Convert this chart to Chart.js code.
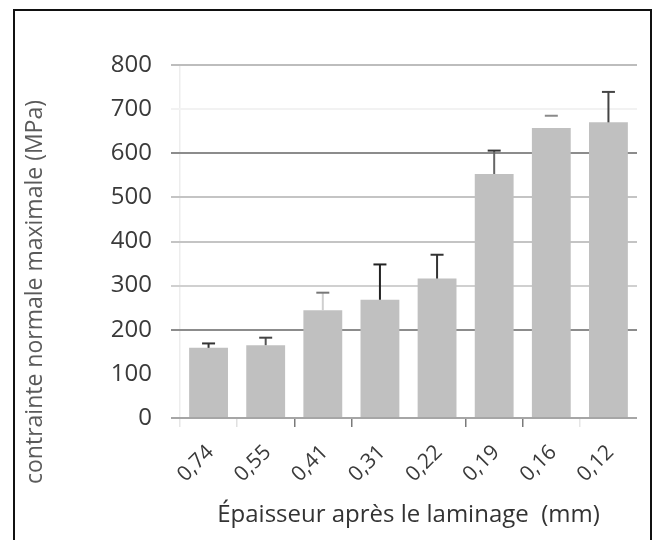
<!DOCTYPE html>
<html>
<head>
<meta charset="utf-8">
<script src="https://cdn.jsdelivr.net/npm/chart.js@4.4.1/dist/chart.umd.min.js"></script>
<style>
  html, body { margin: 0; padding: 0; background: #fff; }
  #wrap { width: 654px; height: 540px; }
</style>
</head>
<body>
<div id="wrap"><canvas id="chart" width="654" height="540"></canvas></div>
<script>
// thickness after rolling (mm) and max normal stress (MPa) with its spread
const thickness = ['0,74', '0,55', '0,41', '0,31', '0,22', '0,19', '0,16', '0,12'];
const stress = [159, 165, 244, 268, 316, 553, 657, 670];
const stressErr = [10, 17, 40, 80, 54, 53, 28, 69];
const yTicks = [0, 100, 200, 300, 400, 500, 600, 700, 800];

const yTitle = 'contrainte normale maximale (MPa)';
const xTitle = 'Épaisseur après le laminage  (mm)';

// line colours, per gridline / per error bar
const hGridColors = {0: '#a6a6a6', 100: 'rgba(0,0,0,0)', 200: '#8c8c8c', 300: '#d0d0d0', 400: '#c4c4c4',
                     500: '#c4c4c4', 600: '#8c8c8c', 700: '#f2f2f2', 800: '#bdbdbd'};
const vTickColors = ['#e6e6e6', '#e0e0e0', '#7a7a7a', '#7a7a7a', 'rgba(0,0,0,0)', '#7a7a7a', '#7a7a7a', '#e6e6e6', '#e0e0e0'];
const stemColors = ['#333', '#555', '#cfcfcf', '#222', '#333', '#666', 'rgba(0,0,0,0)', '#444'];
const capColors = ['#333', '#444', '#777', '#222', '#333', '#333', '#8a8a8a', '#444'];

const framePlugin = {
    id: 'frame',
    beforeDraw(chart) {
        const ctx = chart.ctx;
        ctx.save();
        ctx.fillStyle = '#fff';
        ctx.fillRect(0, 0, chart.width, chart.height);
        ctx.restore();
    },
    afterDraw(chart) {
        const ctx = chart.ctx;
        ctx.save();
        ctx.strokeStyle = '#111';
        ctx.lineWidth = 2;
        ctx.strokeRect(14, 10, 637, 540);
        // vertical axis title, drawn lower than the plot centre
        ctx.translate(35, 292);
        ctx.rotate(-Math.PI / 2);
        ctx.fillStyle = '#5a5a5a';
        ctx.font = '23px "Open Sans"';
        ctx.textAlign = 'center';
        ctx.textBaseline = 'middle';
        ctx.fillText(yTitle, 0, 0);
        ctx.restore();
    }
};

const errorBarPlugin = {
    id: 'errorBars',
    afterDatasetsDraw(chart) {
        const ctx = chart.ctx;
        const yScale = chart.scales.y;
        const bars = chart.getDatasetMeta(0).data;
        ctx.save();
        bars.forEach((bar, i) => {
            const yTop = yScale.getPixelForValue(stress[i] + stressErr[i]);
            ctx.strokeStyle = stemColors[i];
            ctx.lineWidth = 2;
            ctx.beginPath();
            ctx.moveTo(bar.x, bar.y);
            ctx.lineTo(bar.x, yTop);
            ctx.stroke();
            ctx.strokeStyle = capColors[i];
            ctx.beginPath();
            ctx.moveTo(bar.x - 6.5, yTop);
            ctx.lineTo(bar.x + 6.5, yTop);
            ctx.stroke();
        });
        ctx.restore();
    }
};

new Chart(document.getElementById('chart'), {
    type: 'bar',
    data: {
        labels: thickness,
        datasets: [{
            data: stress,
            backgroundColor: '#c0c0c0',
            borderWidth: 0,
            categoryPercentage: 1,
            barPercentage: 0.68
        }]
    },
    options: {
        responsive: false,
        animation: false,
        layout: { padding: { top: 65, right: 17, left: 0, bottom: 0 } },
        plugins: {
            legend: { display: false },
            tooltip: { enabled: false }
        },
        scales: {
            x: {
                afterFit: scale => { scale.height = 122; },
                border: { display: false },
                grid: {
                    offset: true,
                    color: c => (c.index === 0 ? 'rgba(0,0,0,0.07)' : 'rgba(0,0,0,0)'),
                    tickColor: c => vTickColors[c.index] || 'rgba(0,0,0,0)',
                    tickLength: 9,
                    lineWidth: 1.5
                },
                ticks: {
                    minRotation: 45,
                    maxRotation: 45,
                    padding: 13,
                    labelOffset: 2,
                    color: '#3a3a3a',
                    font: { family: 'Open Sans', size: 21 }
                },
                title: {
                    display: true,
                    text: xTitle,
                    color: '#333',
                    font: { family: 'Open Sans', size: 24 },
                    padding: { top: 0, bottom: 10 }
                }
            },
            y: {
                min: 0,
                max: 800,
                afterFit: scale => { scale.width = 180; },
                afterBuildTicks: scale => { scale.ticks = yTicks.map(v => ({ value: v })); },
                border: { display: false },
                grid: {
                    color: c => hGridColors[c.tick.value] || '#ccc',
                    lineWidth: 2,
                    tickLength: 9
                },
                ticks: {
                    padding: 19,
                    color: '#3a3a3a',
                    font: { family: 'Open Sans', size: 24 }
                }
            }
        }
    },
    plugins: [framePlugin, errorBarPlugin]
});
</script>
</body>
</html>
